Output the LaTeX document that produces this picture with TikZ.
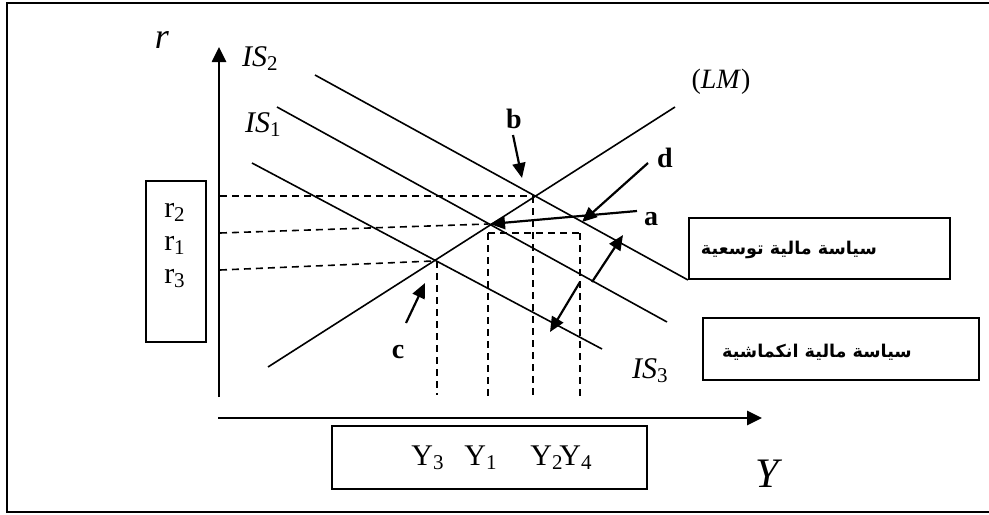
\documentclass[tikz,border=0pt]{standalone}
\usepackage{fontspec}
\setmainfont{Liberation Serif}
\newfontfamily\arabicfont[Script=Arabic]{DejaVu Sans}
\TeXXeTstate=1
\usetikzlibrary{arrows.meta}

\begin{document}
\begin{tikzpicture}[x=0.5pt,y=-0.5pt,
  curve/.style={line width=0.8pt},
  axis/.style={line width=1.3pt,-{Triangle[length=7.5pt,width=7pt]}},
  guide/.style={line width=0.8pt,dash pattern=on 3.5pt off 2.5pt},
  pointer/.style={line width=1.1pt,-{Triangle[length=7.5pt,width=6.5pt]}},
  frame/.style={line width=0.8pt},
  ptlabel/.style={font=\fontsize{14}{16}\selectfont\bfseries},
  boxlabel/.style={anchor=base,font=\fontsize{15}{17}\selectfont},
  islabel/.style={anchor=base west,font=\fontsize{15}{17}\selectfont},
  policy/.style={font=\fontsize{8.8}{11}\selectfont\arabicfont\bfseries}]
  \useasboundingbox (0,0) rectangle (989,514);
  % outer frame (right side falls outside the picture)
  \draw[frame] (989,3) -- (7,3) -- (7,512) -- (989,512);
  % axes
  \coordinate (yFoot) at (219,397);
  \coordinate (yTop) at (219,47);
  \coordinate (xFoot) at (218,418);
  \coordinate (xEnd) at (762,418);
  \draw[axis] (yFoot) -- (yTop);
  \draw[axis] (xFoot) -- (xEnd);
  \node[font=\fontsize{18}{20}\selectfont\itshape, anchor=base] (rAxis) at (162,48) {r};
  \node[font=\fontsize{21}{24}\selectfont\itshape, anchor=base] (yAxis) at (767,487) {Y};
  % IS and LM curves
  \coordinate (isTwoA) at (315,75);   \coordinate (isTwoB) at (688,280);
  \coordinate (isOneA) at (277,107);  \coordinate (isOneB) at (667,322);
  \coordinate (isThrA) at (252,163);  \coordinate (isThrB) at (602,349);
  \coordinate (lmA) at (268,367);     \coordinate (lmB) at (675,107);
  \draw[curve] (isTwoA) -- (isTwoB);
  \draw[curve] (isOneA) -- (isOneB);
  \draw[curve] (isThrA) -- (isThrB);
  \draw[curve] (lmA) -- (lmB);
  \node[islabel] (isTwo) at (235,66) {\textit{IS}\textsubscript{2}};
  \node[islabel] (isOne) at (238,132) {\textit{IS}\textsubscript{1}};
  \node[islabel] (isThr) at (625,378) {\textit{IS}\textsubscript{3}};
  \node[anchor=base, font=\fontsize{14}{16}\selectfont] (lm) at (721,88) {(\textit{LM})};
  % equilibrium points
  \coordinate (eqB) at (533,196);
  \coordinate (eqA) at (488,224);
  \coordinate (eqC) at (433,261);
  \coordinate (eqD) at (580,233);
  \coordinate (eqAfoot) at (488,233);
  % dashed guides
  \draw[guide] (220,196) -- (eqB);
  \draw[guide] (220,233) -- (eqA);
  \draw[guide] (220,270) -- (eqC);
  \draw[guide] (eqAfoot) -- (eqD);
  \draw[guide] (437,261) -- (437,395);
  \draw[guide] (eqAfoot) -- (488,397);
  \draw[guide] (eqB) -- (533,397);
  \draw[guide] (eqD) -- (580,397);
  % r box
  \draw[frame] (146,181) rectangle (206,342);
  \node[boxlabel] (rTwo) at (175,217) {r\textsubscript{2}};
  \node[boxlabel] (rOne) at (175,250) {r\textsubscript{1}};
  \node[boxlabel] (rThr) at (175,283) {r\textsubscript{3}};
  % Y box
  \draw[frame] (332,426) rectangle (647,489);
  \node[boxlabel] (yThr) at (428,465) {Y\textsubscript{3}};
  \node[boxlabel] (yOne) at (481,465) {Y\textsubscript{1}};
  \node[boxlabel] (yTwo) at (547,465) {Y\textsubscript{2}};
  \node[boxlabel] (yFour) at (576,465) {Y\textsubscript{4}};
  % point labels and pointers
  \node[ptlabel, anchor=base] (lblB) at (514,128) {b};
  \node[ptlabel, anchor=base] (lblD) at (665,167) {d};
  \node[ptlabel, anchor=base] (lblA) at (651,225) {a};
  \node[ptlabel, anchor=base] (lblC) at (398,358) {c};
  \coordinate (bTail) at (513,135);  \coordinate (bTip) at (522,178);
  \coordinate (cTail) at (406,323);  \coordinate (cTip) at (425,283);
  \coordinate (aTail) at (637,211);  \coordinate (aTip) at (490,224);
  \coordinate (dTail) at (648,163);  \coordinate (dTip) at (582,222);
  \draw[pointer] (bTail) -- (bTip);
  \draw[pointer] (cTail) -- (cTip);
  \draw[pointer] (aTail) -- (aTip);
  \draw[pointer] (dTail) -- (dTip);
  % policy shifts
  \coordinate (upTail) at (592,282);   \coordinate (upTip) at (623,235);
  \coordinate (downTail) at (580,282); \coordinate (downTip) at (550,332);
  \draw[pointer] (upTail) -- (upTip);
  \draw[pointer] (downTail) -- (downTip);
  % policy boxes
  \draw[frame] (689,218) rectangle (950,279);
  \node[policy] (expand) at (789,250) {\beginR سياسة مالية توسعية\endR};
  \draw[frame] (703,318) rectangle (979,380);
  \node[policy] (contract) at (817,352) {\beginR سياسة مالية انكماشية\endR};
\end{tikzpicture}
\end{document}
